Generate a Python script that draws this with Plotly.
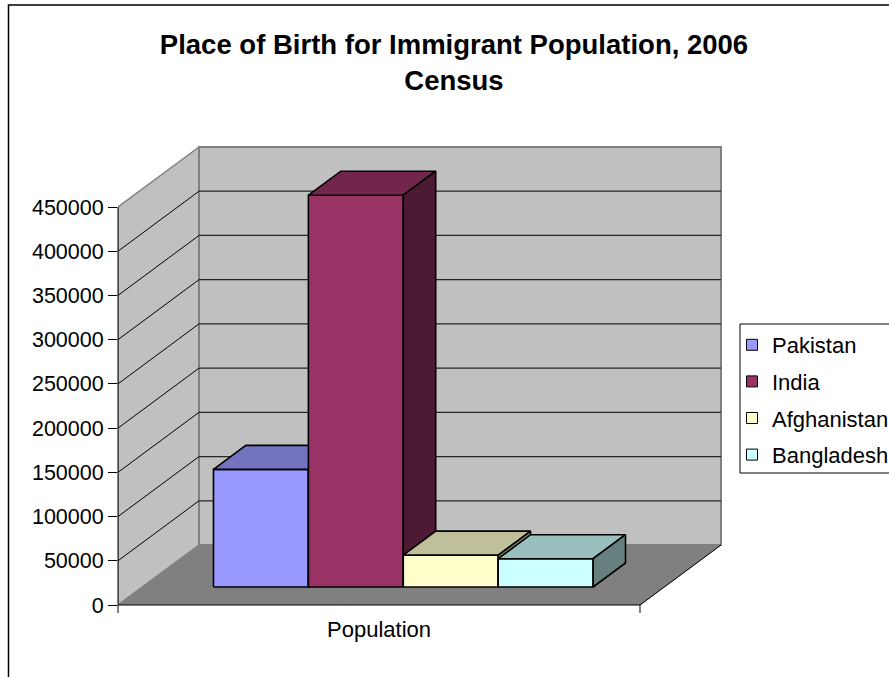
import plotly.graph_objects as go

# ---------------- data ----------------
categories = ["Population"]
series_names = ["Pakistan", "India", "Afghanistan", "Bangladesh"]
series_values = [133000, 443000, 36000, 32000]
y_tick_values = [0, 50000, 100000, 150000, 200000, 250000,
                 300000, 350000, 400000, 450000]
y_tick_labels = [str(v) for v in y_tick_values]

front_colors = ["#9999FF", "#993366", "#FFFFCC", "#CCFFFF"]
top_colors = ["#7373BF", "#73264D", "#BFBF99", "#99BFBF"]
side_colors = ["#4D4D80", "#4D1A33", "#80806A", "#668080"]

FONT = "Arial, Liberation Sans, Helvetica, sans-serif"

# ---------------- geometry (pixels) ----------------
FIG_W, FIG_H = 889, 677
ML, MB, MT = 118, 72, 143
FRONT_W = 522          # width of the front edge of the floor (x units = px)
DEPTH_X = 81           # oblique depth offset in x
DEPTH_PX = 60          # oblique depth offset in y (px)
XR = FRONT_W + DEPTH_X + 3
MR = FIG_W - ML - XR
VMAX = y_tick_values[-1]
K = 398.0 / VMAX       # px per value unit
PLOT_H = FIG_H - MT - MB
YR = PLOT_H / K
DEPTH_Y = DEPTH_PX / K


def proj(u, v, d):
    return u + d * DEPTH_X, v + d * DEPTH_Y


def poly(points, fill, line_color, lw):
    xs = [p[0] for p in points] + [points[0][0]]
    ys = [p[1] for p in points] + [points[0][1]]
    return go.Scatter(x=xs, y=ys, mode="lines", fill="toself", fillcolor=fill,
                      line=dict(color=line_color, width=lw),
                      hoverinfo="skip", showlegend=False)


def seg_trace(segs, color, lw):
    xs, ys = [], []
    for a, b in segs:
        xs += [a[0], b[0], None]
        ys += [a[1], b[1], None]
    return go.Scatter(x=xs, y=ys, mode="lines", line=dict(color=color, width=lw),
                      hoverinfo="skip", showlegend=False)


traces = []
# side wall
traces.append(poly([proj(0, 0, 0), proj(0, VMAX, 0), proj(0, VMAX, 1), proj(0, 0, 1)],
                   "#C0C0C0", "#808080", 1.5))
# back wall
traces.append(poly([proj(0, 0, 1), proj(FRONT_W, 0, 1), proj(FRONT_W, VMAX, 1), proj(0, VMAX, 1)],
                   "#C0C0C0", "#808080", 2))
# floor
traces.append(poly([proj(0, 0, 0), proj(FRONT_W, 0, 0), proj(FRONT_W, 0, 1), proj(0, 0, 1)],
                   "#808080", "#808080", 1))
traces.append(seg_trace([(proj(FRONT_W, 0, 0), proj(FRONT_W, 0, 1))], "#000000", 1))

# gridlines
side_grid = [(proj(0, v, 0), proj(0, v, 1)) for v in y_tick_values[1:-1]]
back_grid = [(proj(0, v, 1), proj(FRONT_W, v, 1)) for v in y_tick_values[1:-1]]
traces.append(seg_trace(side_grid, "#000000", 1))
traces.append(seg_trace(back_grid, "#262626", 1.3))

# bars
n = len(series_names)
bw = FRONT_W / (n + 1.5)
gap = 0.75 * bw
d0, d1 = 0.3, 0.7
for i, val in enumerate(series_values):
    u0 = gap + i * bw
    u1 = u0 + bw
    traces.append(poly([proj(u0, 0, d0), proj(u1, 0, d0), proj(u1, val, d0), proj(u0, val, d0)],
                       front_colors[i], "#000000", 1.6))
    traces.append(poly([proj(u0, val, d0), proj(u1, val, d0), proj(u1, val, d1), proj(u0, val, d1)],
                       top_colors[i], "#000000", 1.6))
    traces.append(poly([proj(u1, 0, d0), proj(u1, 0, d1), proj(u1, val, d1), proj(u1, val, d0)],
                       side_colors[i], "#000000", 1.6))

# legend entries
for i, name in enumerate(series_names):
    traces.append(go.Scatter(x=[None], y=[None], mode="markers", name=name,
                             legendgroup=name,
                             marker=dict(symbol="square", size=11, color=front_colors[i],
                                         line=dict(color="#000000", width=1))))

fig = go.Figure(traces)


def px_x(p):
    return (p - ML) / XR


def px_y(p):
    return (FIG_H - MB - p) / PLOT_H


tick_below = 8 / K
shapes = [
    # outer chart border
    dict(type="rect", xref="paper", yref="paper", x0=px_x(8.5), x1=px_x(905),
         y0=px_y(700), y1=px_y(5), line=dict(color="#000000", width=1.5),
         fillcolor="rgba(0,0,0,0)", layer="below"),
    # y axis line (front-left edge)
    dict(type="line", xref="paper", yref="paper", x0=0, x1=0,
         y0=-tick_below / YR, y1=VMAX / YR, line=dict(color="#000000", width=1)),
    # x axis line (front edge of floor)
    dict(type="line", xref="paper", yref="paper", x0=0, x1=FRONT_W / XR,
         y0=0, y1=0, line=dict(color="#000000", width=1)),
    # tick at right end of category
    dict(type="line", xref="paper", yref="paper", x0=FRONT_W / XR, x1=FRONT_W / XR,
         y0=-tick_below / YR, y1=0, line=dict(color="#000000", width=1)),
    # legend box
    dict(type="rect", xref="paper", yref="paper", x0=px_x(740), x1=px_x(900),
         y0=px_y(473), y1=px_y(324), line=dict(color="#000000", width=1),
         fillcolor="#FFFFFF", layer="below"),
]

fig.update_layout(
    width=FIG_W, height=FIG_H,
    margin=dict(l=ML, r=MR, t=MT, b=MB, pad=0, autoexpand=False),
    paper_bgcolor="#FFFFFF", plot_bgcolor="#FFFFFF",
    font=dict(family=FONT, color="#000000"),
    title=dict(text="<b>Place of Birth for Immigrant Population, 2006<br>Census</b>",
               font=dict(size=27.5, family=FONT, color="#000000"),
               x=454 / FIG_W, xref="container", xanchor="center",
               y=1 - 54 / FIG_H, yref="container", yanchor="top"),
    xaxis=dict(range=[0, XR], showgrid=False, zeroline=False, showline=False,
               tickmode="array", tickvals=[FRONT_W / 2], ticktext=categories,
               ticks="", tickfont=dict(size=22, family=FONT), ticklabelstandoff=9,
               fixedrange=True, automargin=False),
    yaxis=dict(range=[0, YR], showgrid=False, zeroline=False, showline=False,
               tickmode="array", tickvals=y_tick_values, ticktext=y_tick_labels,
               ticks="outside", ticklen=9, tickwidth=1, tickcolor="#000000",
               tickfont=dict(size=21.5, family=FONT), fixedrange=True, automargin=False),
    showlegend=True,
    legend=dict(x=732 / FIG_W, y=1 - 324 / FIG_H, xref="container", yref="container",
                xanchor="left", yanchor="top",
                bgcolor="rgba(0,0,0,0)", borderwidth=0,
                font=dict(size=22, family=FONT, color="#000000"),
                tracegroupgap=5, itemclick=False, itemdoubleclick=False),
    shapes=shapes,
)

fig.write_html("out.html")
